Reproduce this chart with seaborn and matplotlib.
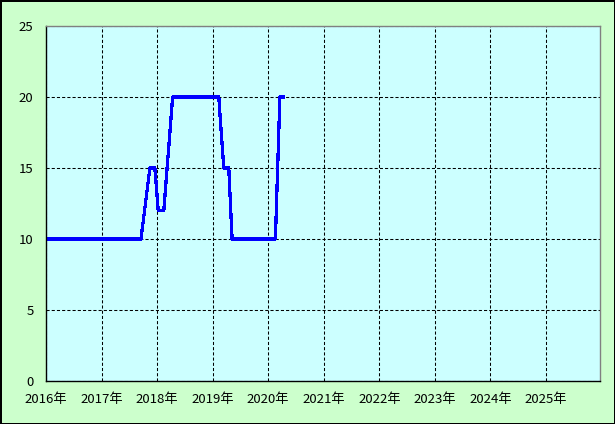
import matplotlib
matplotlib.use("Agg")
import matplotlib.pyplot as plt
import seaborn as sns
import pandas as pd

# values (x in decimal years)
years = [2016.0, 2017.71, 2017.87, 2017.96, 2018.02, 2018.12, 2018.28,
         2019.11, 2019.20, 2019.29, 2019.35, 2020.13, 2020.21, 2020.28]
values = [10, 10, 15, 15, 12, 12, 20, 20, 15, 15, 10, 10, 20, 20]
tick_years = list(range(2016, 2026))
tick_labels = [f"{y}年" for y in tick_years]
y_ticks = [0, 5, 10, 15, 20, 25]

df = pd.DataFrame({"year": years, "value": values})

sns.set_style("white")
plt.rcParams["font.family"] = ["Noto Sans CJK JP", "DejaVu Sans"]

fig = plt.figure(figsize=(6.15, 4.24), dpi=100)
fig.patch.set_facecolor("#ccffcc")
fig.patch.set_edgecolor("black")
fig.patch.set_linewidth(2)
ax = fig.add_axes([46 / 615, 1 - 381 / 424, 554 / 615, 355 / 424])
ax.set_facecolor("#ccffff")

sns.lineplot(data=df, x="year", y="value", ax=ax, color="#0000ff",
             linewidth=1.6, antialiased=False, estimator=None, sort=False)

ax.set_xlim(2016, 2025 + 54 / 55.5)
ax.set_ylim(0, 25)
ax.set_xticks(tick_years)
ax.set_xticklabels(tick_labels)
ax.set_yticks(y_ticks)
ax.set_xlabel("")
ax.set_ylabel("")
ax.tick_params(axis="both", length=0, labelsize=9.5, colors="black")
ax.tick_params(axis="y", pad=9)
ax.tick_params(axis="x", pad=9)
ax.grid(True, color="black", linestyle=(0, (3, 2)), linewidth=0.75)
ax.set_axisbelow(True)

for side in ["left", "bottom"]:
    ax.spines[side].set_color("black")
    ax.spines[side].set_linewidth(1.0)
for side in ["top", "right"]:
    ax.spines[side].set_visible(True)
    ax.spines[side].set_color("#808080")
    ax.spines[side].set_linewidth(1.0)

fig.savefig("out.png", dpi=100, facecolor=fig.get_facecolor(), edgecolor="black")
plt.close(fig)
